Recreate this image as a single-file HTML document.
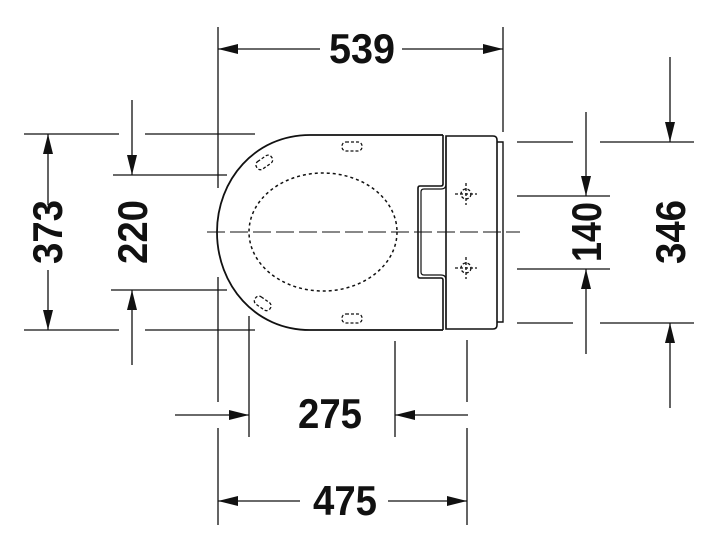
<!DOCTYPE html>
<html><head><style>html,body{margin:0;padding:0;background:#fff}svg{display:block}
text{font-family:"Liberation Sans",sans-serif;font-weight:bold;font-size:42px;fill:#111}</style></head>
<body>
<svg width="720" height="545" viewBox="0 0 720 545" xmlns="http://www.w3.org/2000/svg">
<defs>
<marker id="a" viewBox="0 0 20 10" refX="20" refY="5" markerWidth="20" markerHeight="10" markerUnits="userSpaceOnUse" orient="auto"><path d="M0,0 L20,5 L0,10 Z" fill="#111"/></marker>
</defs>
<g stroke="#111" stroke-width="1.3" fill="none">
<!-- extension lines -->
<path d="M218,27 V188 M218,277 V402 M218,428 V525 M503,27 V132 M249,316 V437 M395,341 V437 M467,340 V402 M467,428 V525"/>
<path d="M24,134 H119 M145,134 H255 M24,330 H119 M145,330 H255 M113,175 H227 M111,290 H227"/>
<path d="M517,142 H573 M600,142 H694 M517,323 H573 M600,323 H694 M517,196 H610 M517,269 H610"/>
<!-- dimension lines -->
<line x1="320" y1="49" x2="218" y2="49" marker-end="url(#a)"/>
<line x1="402" y1="49" x2="503" y2="49" marker-end="url(#a)"/>
<line x1="48" y1="205" x2="48" y2="134" marker-end="url(#a)"/>
<line x1="48" y1="270" x2="48" y2="330" marker-end="url(#a)"/>
<line x1="132" y1="100" x2="132" y2="175" marker-end="url(#a)"/>
<line x1="132" y1="365" x2="132" y2="290" marker-end="url(#a)"/>
<line x1="586" y1="112" x2="586" y2="196" marker-end="url(#a)"/>
<line x1="586" y1="354" x2="586" y2="269" marker-end="url(#a)"/>
<line x1="670" y1="57" x2="670" y2="142" marker-end="url(#a)"/>
<line x1="670" y1="408" x2="670" y2="323" marker-end="url(#a)"/>
<line x1="175" y1="415" x2="249" y2="415" marker-end="url(#a)"/>
<line x1="468" y1="415" x2="395" y2="415" marker-end="url(#a)"/>
<line x1="300" y1="501" x2="218" y2="501" marker-end="url(#a)"/>
<line x1="388" y1="501" x2="467" y2="501" marker-end="url(#a)"/>
<!-- seat -->
<path stroke-width="1.8" d="M443,135 L310,135 C255,135 217,180 217,232 C217,285 255,330 310,330 L443,330"/>
<path stroke-width="1.6" d="M443,135 V184 Q443,186 441,186 H420 Q418,186 418,188 V276 Q418,278 420,278 H441 Q443,278 443,280 V330"/>
<path stroke-width="1.2" d="M446,137 V184 Q446,189 441,189 H424 Q421,189 421,192 V272 Q421,275 424,275 H441 Q446,275 446,280 V328"/>
<path stroke-width="1.6" d="M446,136 H493 Q497,136 497,140 V325 Q497,329 493,329 H446 Z"/>
<path stroke-width="1.4" d="M497,142 H503 V322 H497"/>
<ellipse cx="323" cy="232" rx="74" ry="59" stroke-dasharray="3,3" stroke-width="1.5"/>
<g stroke-dasharray="3,2" stroke-width="1.3">
<rect x="342" y="142" width="20" height="9" rx="4"/>
<rect x="342" y="314" width="20" height="9" rx="4"/>
<rect x="255" y="158" width="18" height="9" rx="4" transform="rotate(-35 264 162)"/>
<rect x="254" y="299" width="18" height="9" rx="4" transform="rotate(35 263 303)"/>
<circle cx="466" cy="194" r="5"/><circle cx="466" cy="268" r="5"/>
<path d="M455,194 H477 M466,183 V205 M455,268 H477 M466,257 V279"/>
</g>
<path stroke-width="1" stroke-dasharray="18,5" d="M207,232 H520"/>
</g>
<text x="362" y="63" text-anchor="middle" textLength="66" lengthAdjust="spacingAndGlyphs">539</text>
<text x="330" y="428" text-anchor="middle" textLength="64" lengthAdjust="spacingAndGlyphs">275</text>
<text x="345" y="515" text-anchor="middle" textLength="64" lengthAdjust="spacingAndGlyphs">475</text>
<text transform="translate(62,232) rotate(-90)" text-anchor="middle" textLength="64" lengthAdjust="spacingAndGlyphs">373</text>
<text transform="translate(147,232) rotate(-90)" text-anchor="middle" textLength="64" lengthAdjust="spacingAndGlyphs">220</text>
<text transform="translate(601,232) rotate(-90)" text-anchor="middle" textLength="60" lengthAdjust="spacingAndGlyphs">140</text>
<text transform="translate(685,232) rotate(-90)" text-anchor="middle" textLength="64" lengthAdjust="spacingAndGlyphs">346</text>
</svg>
</body></html>
